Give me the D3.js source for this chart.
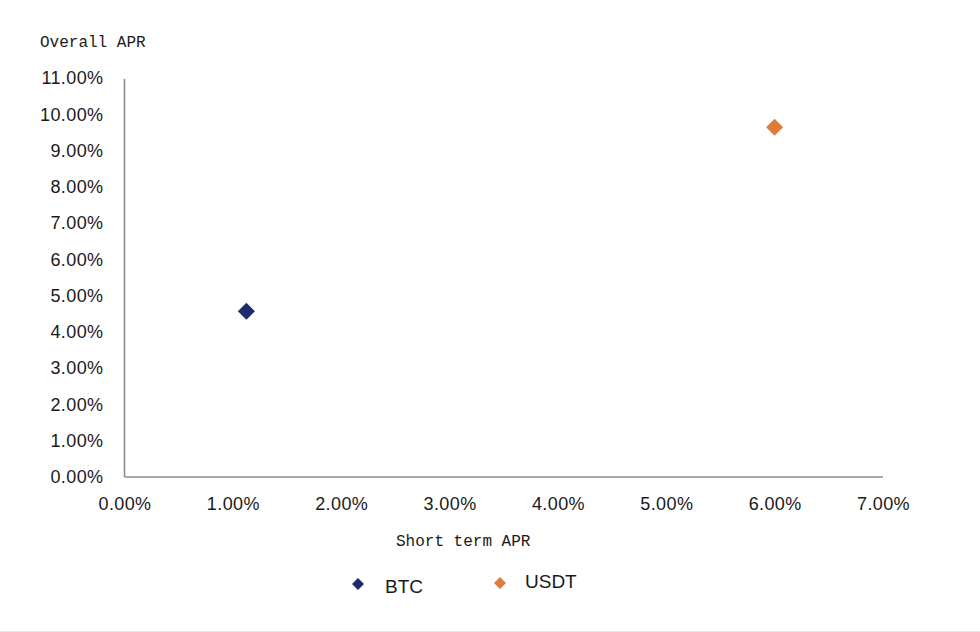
<!DOCTYPE html>
<html><head><meta charset="utf-8">
<script src="https://cdn.jsdelivr.net/npm/d3@7"></script>
<style>body{margin:0;background:#fff;}svg{display:block;}</style>
</head><body>
<svg id="c" width="980" height="632"></svg>
<script>
const seriesNames = ["BTC", "USDT"];
const shortTermAPR = [1.125, 6.0];
const overallAPR = [4.57, 9.64];
const seriesColors = ["#1a2c6b", "#e07b39"];
const xTicks = [0,1,2,3,4,5,6,7];
const yTicks = [0,1,2,3,4,5,6,7,8,9,10,11];
const xTitle = "Short term APR";
const yTitle = "Overall APR";

const svg = d3.select("#c");
svg.append("rect").attr("x",0).attr("y",631).attr("width",980).attr("height",1).attr("fill","#e6e6e6");
const x = d3.scaleLinear().domain([0,7]).range([124.5,883]);
const y = d3.scaleLinear().domain([0,11]).range([477,78]);
const labFont = "'Liberation Sans', Arial, sans-serif";
const monoFont = "'Liberation Mono', 'DejaVu Sans Mono', monospace";

const xAxis = svg.append("g").attr("transform","translate(0,477)")
  .call(d3.axisBottom(x).tickValues(xTicks).tickSize(0).tickPadding(20).tickFormat(d=>d.toFixed(2)+"%"));
const yAxis = svg.append("g").attr("transform","translate(124.5,0)")
  .call(d3.axisLeft(y).tickValues(yTicks).tickSize(0).tickPadding(21).tickFormat(d=>d.toFixed(2)+"%"));
[xAxis,yAxis].forEach(a=>{
  a.select(".domain").attr("stroke","#8c8c8c").attr("stroke-width",1.6);
  a.selectAll("text").attr("font-family",labFont).attr("font-size",18).attr("letter-spacing",0.4).attr("fill","#1a1a1a");
});
xAxis.select(".domain").attr("d","M124.5,0H883");
yAxis.select(".domain").attr("d","M0,79V477");

svg.append("text").attr("x",40).attr("y",47).attr("font-family",monoFont).attr("font-size",16)
  .attr("fill","#1a1a1a").text(yTitle);
svg.append("text").attr("x",396).attr("y",546).attr("font-family",monoFont).attr("font-size",16)
  .attr("fill","#1a1a1a").text(xTitle);

function diamondPath(s){ return `M0,${-s}L${s},0L0,${s}L${-s},0Z`; }

seriesNames.forEach((n,i)=>{
  svg.append("path").attr("d",diamondPath(8.5))
    .attr("transform",`translate(${x(shortTermAPR[i])},${y(overallAPR[i])})`)
    .attr("fill",seriesColors[i]);
});

const legend = [{x:358,y:584,tx:385,ty:593},{x:500,y:583,tx:525,ty:588}];
seriesNames.forEach((n,i)=>{
  const L = legend[i];
  svg.append("path").attr("d",diamondPath(6)).attr("transform",`translate(${L.x},${L.y})`).attr("fill",seriesColors[i]);
  svg.append("text").attr("x",L.tx).attr("y",L.ty).attr("font-family",labFont).attr("font-size",19)
    .attr("fill","#1a1a1a").text(n);
});
</script>
</body></html>
